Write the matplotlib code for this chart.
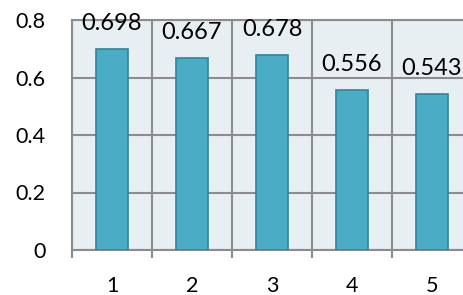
import numpy as np
from matplotlib import pyplot as plt

categories = ['1', '2', '3', '4', '5']
values = [0.698, 0.667, 0.678, 0.556, 0.543]
labels = ['0.698', '0.667', '0.678', '0.556', '0.543']
yticks = [0, 0.2, 0.4, 0.6, 0.8]
ytick_labels = ['0', '0.2', '0.4', '0.6', '0.8']

plt.rcParams['font.family'] = ['Lato', 'DejaVu Sans']

fig = plt.figure(figsize=(4.64, 2.95), dpi=100)
# 绘图区超出右边界，和原图一样被裁掉
ax = fig.add_axes([72 / 464, 45 / 295, 400 / 464, 230 / 295])
ax.set_facecolor('#E8EFF3')

x = np.arange(len(categories))
ax.bar(x, values, width=0.4, color='#4BACC6', edgecolor='#31849B', linewidth=1.2, zorder=3)

for xi, v, s in zip(x, values, labels):
    ax.annotate(s, (xi, v), xytext=(0, 11), textcoords='offset points',
                ha='center', va='bottom', fontsize=17, color='black', zorder=4)

ax.set_xlim(-0.5, len(categories) - 0.5)
ax.set_ylim(0, 0.8)
ax.set_xticks(x)
ax.set_xticklabels(categories)
ax.set_xticks(np.arange(len(categories) + 1) - 0.5, minor=True)
ax.set_yticks(yticks)
ax.set_yticklabels(ytick_labels)

ax.tick_params(axis='x', which='major', length=0, pad=19, labelsize=15.5)
ax.tick_params(axis='x', which='minor', length=6, width=1.5, color='#8C8C8C', direction='out')
ax.tick_params(axis='y', length=0, pad=19, labelsize=15.5)

ax.grid(axis='y', which='major', color='#8C8C8C', linewidth=1.5, zorder=1)
ax.grid(axis='x', which='minor', color='#8C8C8C', linewidth=1.5, zorder=1)
for sp in ax.spines.values():
    sp.set_color('#8C8C8C')
    sp.set_linewidth(1.5)
    sp.set_zorder(1)

fig.savefig('out.png', dpi=100)
